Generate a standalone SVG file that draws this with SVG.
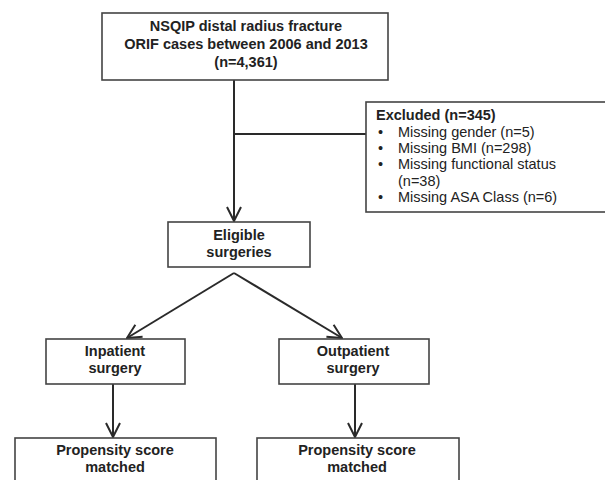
<svg xmlns="http://www.w3.org/2000/svg" width="605" height="480" viewBox="0 0 605 480">
<defs>
<style>
.box{fill:#fff;stroke:#444;stroke-width:1.6}
.t{font-family:"Liberation Sans",Arial,sans-serif;font-size:14.5px;font-weight:bold;fill:#222;text-anchor:middle}
.e{font-family:"Liberation Sans",Arial,sans-serif;font-size:14.5px;fill:#222}
.eb{font-weight:bold}
.c{fill:none;stroke:#2a2a2a;stroke-width:2}
</style>
<marker id="arr" viewBox="0 0 16 16" refX="15" refY="8" markerWidth="16" markerHeight="16" markerUnits="userSpaceOnUse" orient="auto">
<path d="M1,1 L15,8 L1,15" fill="none" stroke="#2a2a2a" stroke-width="2"/>
</marker>
</defs>
<rect width="605" height="480" fill="#fff"/>
<g id="connectors">
<line class="c" x1="234" y1="80" x2="234" y2="221" marker-end="url(#arr)"/>
<line class="c" x1="234" y1="134" x2="366" y2="134"/>
<line class="c" x1="234" y1="273" x2="127" y2="338" marker-end="url(#arr)"/>
<line class="c" x1="234" y1="273" x2="342" y2="338" marker-end="url(#arr)"/>
<line class="c" x1="113" y1="384" x2="113" y2="437" marker-end="url(#arr)"/>
<line class="c" x1="355" y1="384" x2="355" y2="437" marker-end="url(#arr)"/>
</g>
<g id="n-total">
<rect class="box" x="102" y="13" width="286" height="67"/>
<text class="t" x="246" y="31">NSQIP distal radius fracture</text>
<text class="t" x="246" y="49">ORIF cases between 2006 and 2013</text>
<text class="t" x="246" y="67">(n=4,361)</text>
</g>
<g id="n-excluded">
<rect class="box" x="366" y="102" width="245" height="110"/>
<text class="e eb" x="376" y="120">Excluded (n=345)</text>
<text class="e" x="378" y="137">•</text>
<text class="e" x="398" y="137">Missing gender (n=5)</text>
<text class="e" x="378" y="153">•</text>
<text class="e" x="398" y="153">Missing BMI (n=298)</text>
<text class="e" x="378" y="169">•</text>
<text class="e" x="398" y="169">Missing functional status</text>
<text class="e" x="398" y="186">(n=38)</text>
<text class="e" x="378" y="202">•</text>
<text class="e" x="398" y="202">Missing ASA Class (n=6)</text>
</g>
<g id="n-eligible">
<rect class="box" x="168" y="222" width="142" height="45"/>
<text class="t" x="239" y="240">Eligible</text>
<text class="t" x="239" y="257">surgeries</text>
</g>
<g id="n-inpatient">
<rect class="box" x="46" y="339" width="139" height="45"/>
<text class="t" x="115" y="356">Inpatient</text>
<text class="t" x="115" y="373">surgery</text>
</g>
<g id="n-outpatient">
<rect class="box" x="279" y="339" width="150" height="45"/>
<text class="t" x="353" y="356">Outpatient</text>
<text class="t" x="353" y="373">surgery</text>
</g>
<g id="n-psm-in">
<rect class="box" x="15" y="438" width="201" height="60"/>
<text class="t" x="115" y="455">Propensity score</text>
<text class="t" x="115" y="472">matched</text>
</g>
<g id="n-psm-out">
<rect class="box" x="257" y="438" width="202" height="60"/>
<text class="t" x="357" y="455">Propensity score</text>
<text class="t" x="357" y="472">matched</text>
</g>
</svg>
